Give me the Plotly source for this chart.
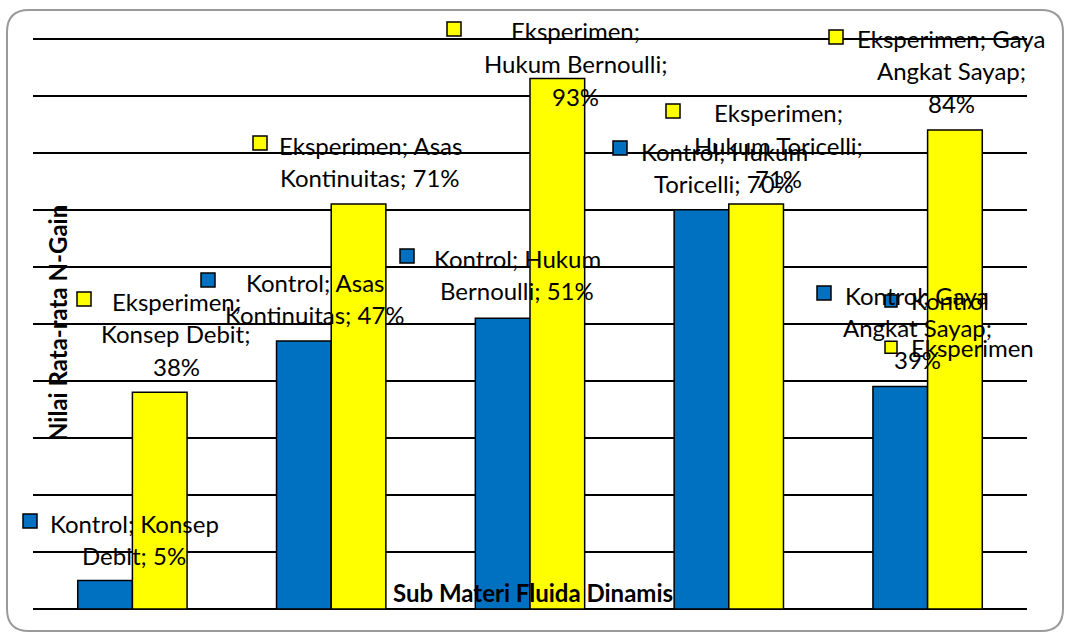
import plotly.graph_objects as go

# ---------------- data ----------------
categories = ["Konsep Debit", "Asas Kontinuitas", "Hukum Bernoulli",
              "Hukum Toricelli", "Gaya Angkat Sayap"]
kontrol = [5, 47, 51, 70, 39]
eksperimen = [38, 71, 93, 71, 84]
series_names = ["Kontrol", "Eksperimen"]
y_ticks = list(range(0, 101, 10))
y_title = "Nilai Rata-rata N-Gain"
x_title = "Sub Materi Fluida Dinamis"

# ---------------- layout helpers ----------------
W, H = 1065, 634
L, R, T, B = 33, 38, 33, 25
PW = W - L - R
PH = H - T - B


def px(x):
    return (x - L) / PW


def py(y):
    return (H - B - y) / PH


BLUE = "#0070C0"
YELLOW = "#FFFF00"
FONT = "Lato"
FS = 24

values = [kontrol, eksperimen]
colors = [BLUE, YELLOW]

fig = go.Figure()
for s, name in enumerate(series_names):
    fig.add_bar(x=categories, y=values[s], name=name,
                legendgroup=name,
                marker=dict(color=colors[s], line=dict(color="black", width=1.5)))

# data label layout: series, category, words per line, key centre, text centre x, first line y
label_layout = [
    (0, 0, [2, 2], 30, 521, 134, 523),
    (1, 0, [1, 2, 1], 84, 299, 176, 301),
    (0, 1, [2, 2], 208, 280, 315, 282),
    (1, 1, [2, 2], 260, 143, 370, 145),
    (1, 2, [1, 2, 1], 454, 29, 575, 31),
    (0, 2, [2, 2], 407, 256, 517, 258),
    (1, 3, [1, 2, 1], 673, 111, 778, 113),
    (0, 3, [2, 2], 620, 148, 724, 151),
    (1, 4, [2, 2, 1], 836, 37, 951, 38),
    (0, 4, [2, 2, 1], 824, 293, 917, 295),
]
LINE = 32.5

annotations = []
shapes = []
for s, c, chunks, kx, ky, cx, y1 in label_layout:
    words = f"{series_names[s]}; {categories[c]}; {values[s][c]}%".split(" ")
    lines = []
    i = 0
    for n in chunks:
        lines.append(" ".join(words[i:i + n]))
        i += n
    for j, line in enumerate(lines):
        annotations.append(dict(
            x=px(cx), y=py(y1 + j * LINE), xref="paper", yref="paper",
            text=line, showarrow=False, xanchor="center", yanchor="middle",
            font=dict(family=FONT, size=FS, color="black")))
    shapes.append(dict(
        type="rect", xref="paper", yref="paper",
        xsizemode="pixel", ysizemode="pixel",
        xanchor=px(kx), yanchor=py(ky), x0=-7, x1=7, y0=-7, y1=7,
        fillcolor=colors[s], line=dict(color="black", width=1.5)))

annotations.append(dict(
    x=px(57), y=py(323), xref="paper", yref="paper", text=f"<b>{y_title}</b>",
    textangle=-90, showarrow=False, xanchor="center", yanchor="middle",
    font=dict(family=FONT, size=24, color="black")))
annotations.append(dict(
    x=px(533), y=py(592), xref="paper", yref="paper", text=f"<b>{x_title}</b>",
    showarrow=False, xanchor="center", yanchor="middle",
    font=dict(family=FONT, size=24, color="black")))

# rounded outer frame
x0, x1, y0, y1, r = 7, 1063, 10, 631, 22
path = (f"M {px(x0 + r)},{py(y0)} L {px(x1 - r)},{py(y0)} "
        f"Q {px(x1)},{py(y0)} {px(x1)},{py(y0 + r)} "
        f"L {px(x1)},{py(y1 - r)} Q {px(x1)},{py(y1)} {px(x1 - r)},{py(y1)} "
        f"L {px(x0 + r)},{py(y1)} Q {px(x0)},{py(y1)} {px(x0)},{py(y1 - r)} "
        f"L {px(x0)},{py(y0 + r)} Q {px(x0)},{py(y0)} {px(x0 + r)},{py(y0)} Z")
shapes.append(dict(type="path", xref="paper", yref="paper", path=path,
                   line=dict(color="#9a9a9a", width=2), layer="below"))

fig.update_layout(
    width=W, height=H,
    margin=dict(l=L, r=R, t=T, b=B, pad=0),
    paper_bgcolor="white", plot_bgcolor="white",
    barmode="group", bargap=0.45, bargroupgap=0,
    font=dict(family=FONT, size=FS, color="black"),
    showlegend=True,
    legend=dict(x=px(871), y=py(279), xanchor="left", yanchor="top",
                bgcolor="rgba(0,0,0,0)", traceorder="grouped",
                tracegroupgap=12, font=dict(family=FONT, size=FS),
                itemwidth=30),
    annotations=annotations,
    shapes=shapes,
)
fig.update_xaxes(showticklabels=False, showgrid=False, showline=False,
                 ticks="")
fig.update_yaxes(range=[0, 101], tickvals=y_ticks, showticklabels=False,
                 showgrid=True, gridcolor="black", gridwidth=2,
                 zeroline=True, zerolinecolor="black", zerolinewidth=2,
                 showline=False, ticks="")

fig.write_html("out.html",
               config={"displayModeBar": False},
               post_script="document.body.style.margin='0';"
                           "document.body.style.overflow='hidden';")
